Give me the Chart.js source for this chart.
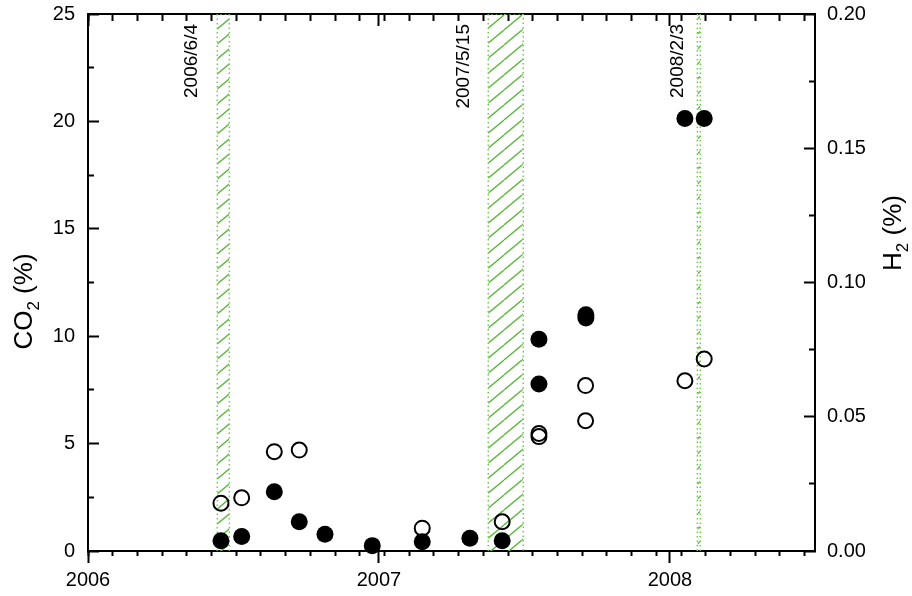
<!DOCTYPE html>
<html><head><meta charset="utf-8">
<script src="https://cdn.jsdelivr.net/npm/chart.js@4.4.1/dist/chart.umd.min.js"></script>
<style>html,body{margin:0;padding:0;background:#fff}#wrap{width:912px;height:596px;position:relative}</style>
</head><body><div id="wrap"><canvas id="c"></canvas></div>
<script>
// x values are days counted from 2006-01-01
const co2Days   = [166.8,192.8,233.7,265.0,297.3,356.6,419.3,479.1,519.6,565.7,565.7,624.6,624.6,748.8,773.0];
const co2Values = [0.48,0.67,2.76,1.36,0.78,0.25,0.43,0.59,0.48,9.86,7.77,11.0,10.85,20.14,20.14];
const h2Days    = [166.8,192.8,233.7,265.0,419.3,519.6,565.7,565.7,624.2,624.2,748.8,773.0];
const h2Values  = [0.0178,0.0198,0.0370,0.0376,0.0085,0.0109,0.0438,0.0426,0.0616,0.0485,0.0634,0.0715];
const bandStart = [162.2,502.1,764.4];
const bandEnd   = [177.3,546.0,768.1];
const bandLabels = ['2006/6/4','2007/5/15','2008/2/3'];
const bandLabelDays = [130.4,471.6,740.0];
const xTickDays = [0,365,730];
const xTickLabels = ['2006','2007','2008'];
const yTicks  = [0,5,10,15,20,25];
const yMinorTicks = [2.5,7.5,12.5,17.5,22.5];
const y2Ticks = [0,0.05,0.10,0.15,0.20];
const y2MinorTicks = [0.025,0.075,0.125,0.175];
const xMinorStep = 31;

const FONT = '"Liberation Sans", Arial, Helvetica, sans-serif';
Chart.defaults.font.family = FONT;
Chart.defaults.color = '#000';

const xMinorTicks = [];
for (let d = 0; d <= 912; d += xMinorStep) xMinorTicks.push(d);

function fixed(vals){ return s => { s.ticks = vals.map(v => ({value: v})); }; }
function noPad(s){ s.paddingTop = 0; s.paddingBottom = 0; s.paddingLeft = 0; s.paddingRight = 0; }

function hatchPattern(){
  const w = 18, h = 15;
  const c = document.createElement('canvas'); c.width = w; c.height = h;
  const g = c.getContext('2d');
  g.strokeStyle = '#62b845'; g.lineWidth = 1.4;
  for (const dx of [-w, 0, w]) { g.beginPath(); g.moveTo(dx, h); g.lineTo(dx + w, 0); g.stroke(); }
  return g.createPattern(c, 'repeat');
}
const pat = hatchPattern();

const bandSets = bandStart.map((s, i) => ({
  type: 'scatter', label: bandLabels[i], xAxisID: 'x', yAxisID: 'y', order: 2,
  data: [{x: s, y: 0}, {x: s, y: 25}, {x: bandEnd[i], y: 25}, {x: bandEnd[i], y: 0}],
  showLine: true, fill: 'origin', backgroundColor: pat,
  borderColor: '#72cc52', borderWidth: 1.5, borderDash: [1.5, 3],
  pointRadius: 0, tension: 0
}));

function axisMajor(pos, min, max, vals, size, opts) {
  return Object.assign({
    type: 'linear', position: pos, weight: 1, min, max,
    afterBuildTicks: fixed(vals),
    afterFit: s => { noPad(s); if (pos === 'left' || pos === 'right') s.width = size; else s.height = size; },
    border: {display: true, color: '#000', width: 2},
  }, opts);
}
function axisMinor(pos, min, max, vals, len) {
  return {
    type: 'linear', position: pos, weight: 0, min, max,
    afterBuildTicks: fixed(vals),
    afterFit: s => { noPad(s); if (pos === 'left' || pos === 'right') s.width = 0; else s.height = 0; },
    ticks: {display: false},
    border: {display: false},
    grid: {drawOnChartArea: false, tickLength: len, tickWidth: 2, tickColor: '#000'}
  };
}

const titlePlugin = {
  id: 'texts',
  afterDraw(chart) {
    const ctx = chart.ctx, xs = chart.scales.x, ys = chart.scales.y, y2 = chart.scales.y2;
    ctx.save();
    ctx.fillStyle = '#000';
    function subTitle(parts, bx, cy) {
      ctx.save();
      ctx.translate(bx, cy); ctx.rotate(-Math.PI / 2);
      ctx.textBaseline = 'alphabetic'; ctx.textAlign = 'left';
      const big = '26px ' + FONT, small = '17px ' + FONT;
      ctx.font = big; const w0 = ctx.measureText(parts[0]).width, w2 = ctx.measureText(parts[2]).width;
      ctx.font = small; const w1 = ctx.measureText(parts[1]).width;
      let x = -(w0 + w1 + w2) / 2;
      ctx.font = big; ctx.fillText(parts[0], x, 0); x += w0;
      ctx.font = small; ctx.fillText(parts[1], x, 7); x += w1;
      ctx.font = big; ctx.fillText(parts[2], x, 0);
      ctx.restore();
    }
    subTitle(['CO', '2', ' (%)'], ys.left + 32, 301.5);
    subTitle(['H', '2', ' (%)'], y2.right - 11, 233);
    ctx.font = '19px ' + FONT;
    bandLabels.forEach((t, i) => {
      const px = xs.getPixelForValue(bandLabelDays[i]);
      ctx.save();
      ctx.translate(px, chart.chartArea.top + 10); ctx.rotate(-Math.PI / 2);
      ctx.textAlign = 'right'; ctx.textBaseline = 'middle';
      ctx.fillText(t, 0, 0);
      ctx.restore();
    });
    ctx.restore();
  }
};

new Chart(document.getElementById('c'), {
  type: 'scatter',
  data: {
    datasets: [
      { label: 'CO2', xAxisID: 'x', yAxisID: 'y', order: 0,
        data: co2Days.map((d, i) => ({x: d, y: co2Values[i]})),
        pointRadius: 8.5, pointBackgroundColor: '#000', pointBorderWidth: 0, borderColor: '#000', clip: false },
      { label: 'H2', xAxisID: 'x', yAxisID: 'y2', order: 1,
        data: h2Days.map((d, i) => ({x: d, y: h2Values[i]})),
        pointRadius: 7.5, pointBackgroundColor: 'rgba(0,0,0,0)', pointBorderColor: '#000', pointBorderWidth: 2, clip: false },
      ...bandSets
    ]
  },
  options: {
    responsive: true, maintainAspectRatio: false, animation: false, events: [],
    layout: {padding: 0},
    plugins: {legend: {display: false}, tooltip: {enabled: false}},
    scales: {
      x: axisMajor('bottom', 0, 912, xTickDays, 45, {
        ticks: {callback: v => { const k = xTickDays.indexOf(v); return k >= 0 ? xTickLabels[k] : ''; },
                font: {size: 20}, color: '#000', padding: 5, maxRotation: 0, autoSkip: false},
        grid: {drawOnChartArea: false, tickLength: 12, tickWidth: 2, tickColor: '#000'}
      }),
      xMinor: axisMinor('bottom', 0, 912, xMinorTicks, 5),
      xTop: axisMajor('top', 0, 912, xTickDays, 14, {
        ticks: {display: false},
        grid: {drawOnChartArea: false, tickLength: -12, tickWidth: 2, tickColor: '#000'}
      }),
      xTopMinor: axisMinor('top', 0, 912, xMinorTicks, -7),
      y: axisMajor('left', 0, 25, yTicks, 88, {
        ticks: {callback: v => String(v), font: {size: 20}, color: '#000', padding: 24, autoSkip: false},
        grid: {drawOnChartArea: false, tickLength: -11, tickWidth: 2, tickColor: '#000'}
      }),
      yMinor: axisMinor('left', 0, 25, yMinorTicks, -6),
      y2: axisMajor('right', 0, 0.2, y2Ticks, 97, {
        ticks: {callback: v => v.toFixed(2), font: {size: 20}, color: '#000', padding: 23, autoSkip: false},
        grid: {drawOnChartArea: false, tickLength: -11, tickWidth: 2, tickColor: '#000'}
      }),
      y2Minor: axisMinor('right', 0, 0.2, y2MinorTicks, -6)
    }
  },
  plugins: [titlePlugin]
});
</script>
</body></html>
